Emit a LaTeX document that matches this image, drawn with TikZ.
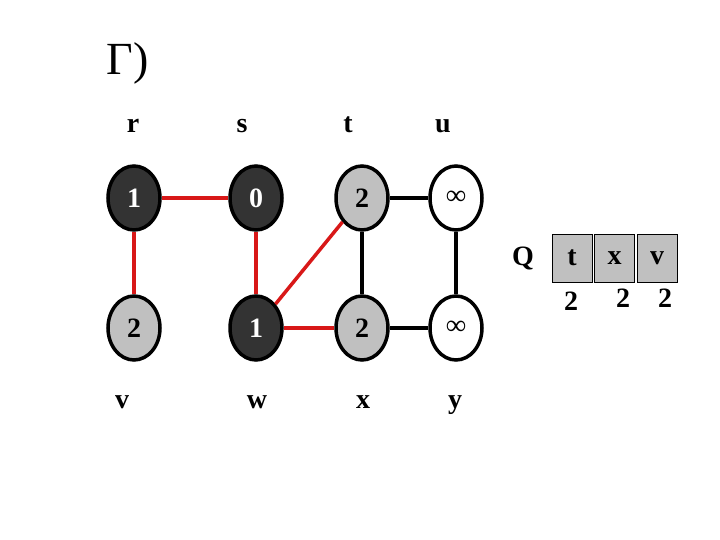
\documentclass[tikz,border=0pt]{standalone}
\usepackage{fontspec}
\setmainfont{Liberation Serif}
\usetikzlibrary{shapes.geometric}
\definecolor{darkv}{HTML}{333333}
\definecolor{greyv}{HTML}{C0C0C0}
\definecolor{treered}{HTML}{D81818}
\begin{document}
\begin{tikzpicture}
      [ x=1pt, y=-1pt,
        every node/.style={font=\fontsize{28}{30}\selectfont\bfseries},
        vert/.style={ellipse, draw, line width=3.5pt, minimum width=52pt, minimum height=64pt, inner sep=0pt},
        done/.style={vert, fill=darkv, text=white},
        seen/.style={vert, fill=greyv},
        fresh/.style={vert, fill=white},
        lbl/.style={anchor=base},
        tree/.style={treered, line width=3.5pt},
        edge/.style={black, line width=3.5pt},
        qbox/.style={draw, line width=0.8pt, fill=greyv, minimum width=40pt, minimum height=48pt, inner sep=0pt}
      ]
      \useasboundingbox (0,0) rectangle (720,540);
      \node[anchor=base west, font=\fontsize{46}{48}\selectfont] (title) at (103,75) {Γ)};
      % vertices
      \node[done]  (r) at (134,198) {1};
      \node[done]  (s) at (256,198) {0};
      \node[seen]  (t) at (362,198) {2};
      \node[fresh] (u) at (456,198) {∞};
      \node[seen]  (v) at (134,328) {2};
      \node[done]  (w) at (256,328) {1};
      \node[seen]  (x) at (362,328) {2};
      \node[fresh] (y) at (456,328) {∞};
      % names
      \node[lbl] (lr) at (133,133) {r};
      \node[lbl] (ls) at (242,133) {s};
      \node[lbl] (lt) at (348,133) {t};
      \node[lbl] (lu) at (443,133) {u};
      \node[lbl] (lv) at (122,408) {v};
      \node[lbl] (lw) at (257,408) {w};
      \node[lbl] (lx) at (363,408) {x};
      \node[lbl] (ly) at (455,408) {y};
      % edges
      \foreach \a/\b in {r/s, r/v, s/w, w/t, w/x}
        \draw[tree] (\a) -- (\b);
      \foreach \a/\b in {t/u, t/x, u/y, x/y}
        \draw[edge] (\a) -- (\b);
      % queue
      \node (Q) at (523,258) {Q};
      \node[qbox] (qt) at (572,258) {t};
      \node[qbox] (qx) at (614.5,258) {x};
      \node[qbox] (qv) at (657,258) {v};
      \node (dt) at (571,301) {2};
      \node (dx) at (623,298) {2};
      \node (dv) at (665,298) {2};
\end{tikzpicture}
\end{document}
